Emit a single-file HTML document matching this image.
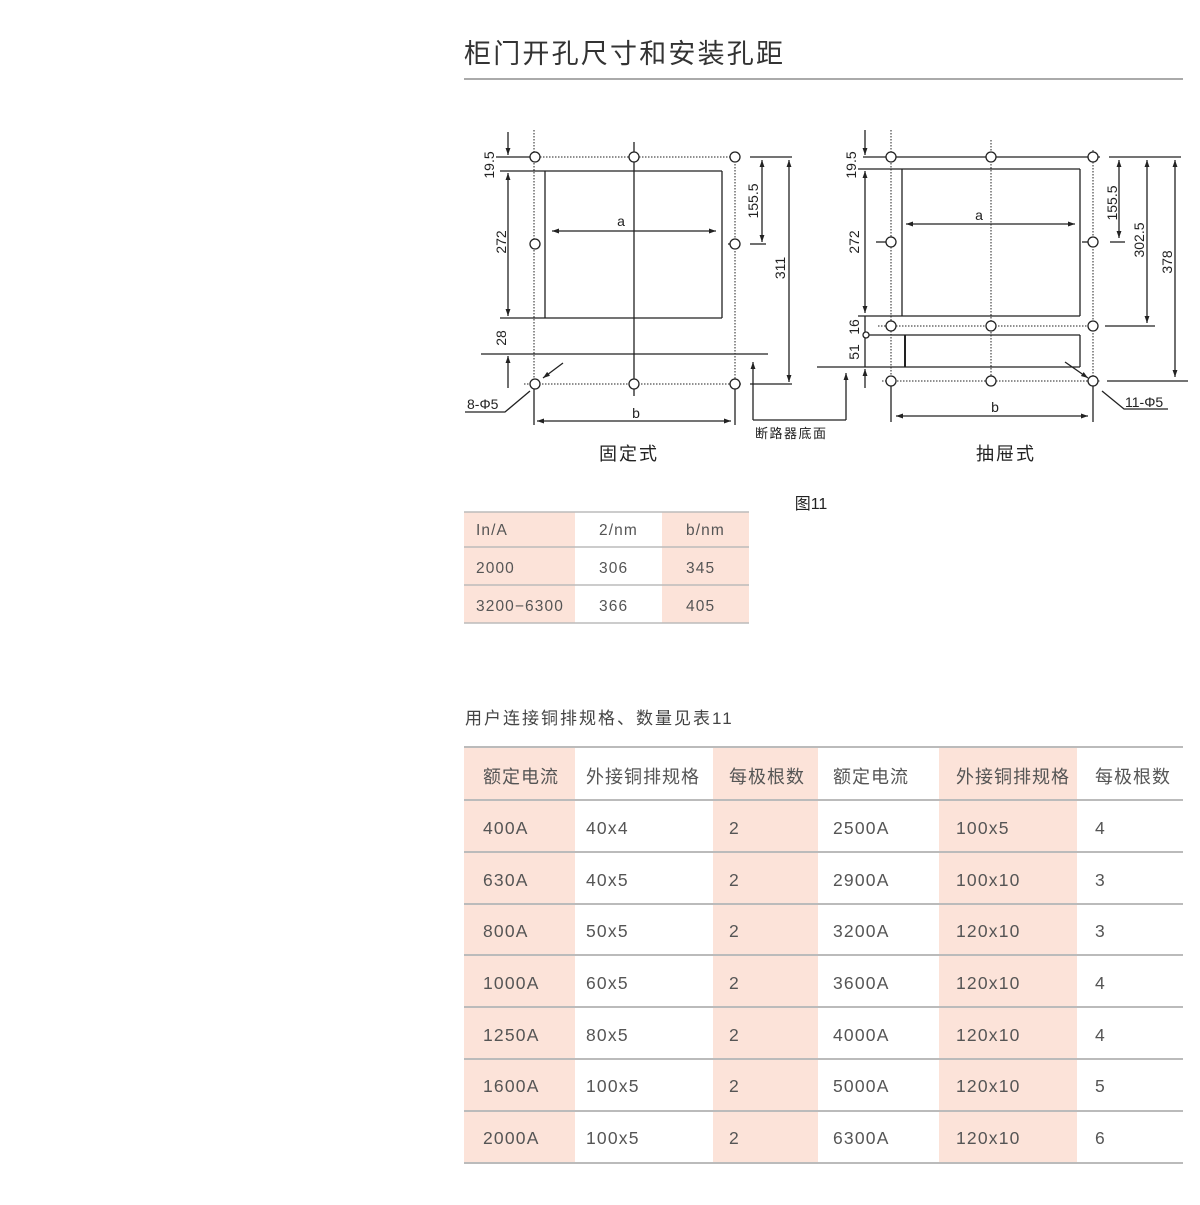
<!DOCTYPE html>
<html><head><meta charset="utf-8"><style>
html,body{margin:0;padding:0;background:#fff;}
svg{display:block;}
text{font-family:"Liberation Sans","Noto Sans CJK SC",sans-serif;}
</style></head><body>
<svg width="1200" height="1205" viewBox="0 0 1200 1205" xmlns="http://www.w3.org/2000/svg">
<defs>
<marker id="ar" viewBox="0 0 10 10" refX="10" refY="5" markerWidth="7" markerHeight="7" orient="auto-start-reverse" markerUnits="userSpaceOnUse"><path d="M0,1.5 L10,5 L0,8.5z" fill="#222"/></marker>
</defs>
<text x="464" y="63" font-size="27" fill="#333" letter-spacing="2.2">柜门开孔尺寸和安装孔距</text>
<line x1="464" y1="79" x2="1183" y2="79" stroke="#aaa" stroke-width="2"/>

<g stroke="#222" stroke-width="1.3" fill="none">
<line x1="534" y1="130" x2="534" y2="385" stroke-dasharray="1.5,1.5" stroke-width="1"/>
<line x1="534" y1="389" x2="534" y2="425"/>
<line x1="735" y1="152" x2="735" y2="385" stroke-dasharray="1.5,1.5" stroke-width="1"/>
<line x1="735" y1="389" x2="735" y2="425"/>
<line x1="540" y1="157" x2="741" y2="157" stroke-dasharray="1.5,1.5" stroke-width="1"/>
<line x1="524" y1="384" x2="741" y2="384" stroke-dasharray="1.5,1.5" stroke-width="1"/>
<line x1="634" y1="142" x2="634" y2="396"/>
<line x1="496" y1="157" x2="530" y2="157"/>
<line x1="500" y1="171" x2="722" y2="171"/>
<line x1="500" y1="318" x2="722" y2="318"/>
<line x1="545" y1="171" x2="545" y2="318"/>
<line x1="722" y1="171" x2="722" y2="318"/>
<line x1="481" y1="354" x2="768" y2="354"/>
<line x1="508" y1="132" x2="508" y2="155" marker-end="url(#ar)"/>
<line x1="508" y1="173" x2="508" y2="316" marker-start="url(#ar)" marker-end="url(#ar)"/>
<line x1="508" y1="388" x2="508" y2="356" marker-end="url(#ar)"/>
<line x1="552" y1="231" x2="716" y2="231" marker-start="url(#ar)" marker-end="url(#ar)"/>
<line x1="750" y1="157" x2="792" y2="157"/>
<line x1="750" y1="244" x2="766" y2="244"/>
<line x1="728" y1="244" x2="730" y2="244"/>
<line x1="762" y1="160" x2="762" y2="242" marker-start="url(#ar)" marker-end="url(#ar)"/>
<line x1="789" y1="160" x2="789" y2="382" marker-start="url(#ar)" marker-end="url(#ar)"/>
<line x1="750" y1="384" x2="792" y2="384"/>
<line x1="537" y1="421" x2="731" y2="421" marker-start="url(#ar)" marker-end="url(#ar)"/>
<polyline points="465,412 505,412 530,391"/>
<line x1="563" y1="363" x2="543" y2="378" marker-end="url(#ar)"/>
<line x1="753" y1="420" x2="753" y2="362" marker-end="url(#ar)"/>
<line x1="753" y1="420" x2="846" y2="420"/>
<line x1="846" y1="420" x2="846" y2="373" marker-end="url(#ar)"/>
<g fill="#fff">
<circle cx="535" cy="157" r="5"/><circle cx="634" cy="157" r="5"/><circle cx="735" cy="157" r="5"/>
<circle cx="535" cy="244" r="5"/><circle cx="735" cy="244" r="5"/>
<circle cx="535" cy="384" r="5"/><circle cx="634" cy="384" r="5"/><circle cx="735" cy="384" r="5"/>
</g>

<line x1="891" y1="130" x2="891" y2="381" stroke-dasharray="1.5,1.5" stroke-width="1"/>
<line x1="891" y1="386" x2="891" y2="422"/>
<line x1="991" y1="140" x2="991" y2="381" stroke-dasharray="1.5,1.5" stroke-width="1"/>
<line x1="1093" y1="150" x2="1093" y2="381" stroke-dasharray="1.5,1.5" stroke-width="1"/>
<line x1="1093" y1="386" x2="1093" y2="422"/>
<line x1="863" y1="157" x2="1100" y2="157"/>
<line x1="878" y1="326" x2="1100" y2="326" stroke-dasharray="1.5,1.5" stroke-width="1"/>
<line x1="882" y1="381" x2="1100" y2="381" stroke-dasharray="1.5,1.5" stroke-width="1"/>
<line x1="858" y1="169" x2="1080" y2="169"/>
<line x1="858" y1="316" x2="1080" y2="316"/>
<line x1="902" y1="169" x2="902" y2="316"/>
<line x1="1080" y1="169" x2="1080" y2="316"/>
<line x1="866" y1="335" x2="1080" y2="335"/>
<line x1="905" y1="335" x2="905" y2="367" stroke-width="2"/>
<line x1="1080" y1="335" x2="1080" y2="367"/>
<line x1="817" y1="367" x2="1080" y2="367"/>
<line x1="865" y1="130" x2="865" y2="155" marker-end="url(#ar)"/>
<line x1="865" y1="171" x2="865" y2="313" marker-start="url(#ar)" marker-end="url(#ar)"/>
<line x1="865" y1="316" x2="865" y2="367"/>
<line x1="865" y1="388" x2="865" y2="369" marker-end="url(#ar)"/>
<line x1="906" y1="224" x2="1075" y2="224" marker-start="url(#ar)" marker-end="url(#ar)"/>
<line x1="876" y1="242" x2="886" y2="242"/>
<line x1="1082" y1="242" x2="1088" y2="242"/>
<line x1="1109" y1="157" x2="1181" y2="157"/>
<line x1="1110" y1="242" x2="1125" y2="242"/>
<line x1="1105" y1="326" x2="1155" y2="326"/>
<line x1="1107" y1="381" x2="1188" y2="381"/>
<line x1="1119" y1="160" x2="1119" y2="238" marker-start="url(#ar)" marker-end="url(#ar)"/>
<line x1="1147" y1="160" x2="1147" y2="323" marker-start="url(#ar)" marker-end="url(#ar)"/>
<line x1="1175" y1="160" x2="1175" y2="377" marker-start="url(#ar)" marker-end="url(#ar)"/>
<line x1="896" y1="416" x2="1088" y2="416" marker-start="url(#ar)" marker-end="url(#ar)"/>
<polyline points="1168,409 1124,409 1102,391"/>
<line x1="1065" y1="362" x2="1088" y2="378" marker-end="url(#ar)"/>
<g fill="#fff">
<circle cx="891" cy="157" r="5"/><circle cx="991" cy="157" r="5"/><circle cx="1093" cy="157" r="5"/>
<circle cx="891" cy="242" r="5"/><circle cx="1093" cy="242" r="5"/>
<circle cx="891" cy="326" r="5"/><circle cx="991" cy="326" r="5"/><circle cx="1093" cy="326" r="5"/>
<circle cx="891" cy="381" r="5"/><circle cx="991" cy="381" r="5"/><circle cx="1093" cy="381" r="5"/>
<circle cx="866" cy="335" r="3"/>
</g>
</g>

<g font-size="14" fill="#222">
<text transform="translate(494,165) rotate(-90)" text-anchor="middle">19.5</text>
<text transform="translate(506,242) rotate(-90)" text-anchor="middle">272</text>
<text transform="translate(506,338) rotate(-90)" text-anchor="middle">28</text>
<text x="621" y="226" text-anchor="middle">a</text>
<text transform="translate(758,201) rotate(-90)" text-anchor="middle">155.5</text>
<text transform="translate(785,268) rotate(-90)" text-anchor="middle">311</text>
<text x="467" y="409">8-Φ5</text>
<text x="636" y="418" text-anchor="middle">b</text>
<text x="755" y="438" font-size="13" letter-spacing="1.5">断路器底面</text>
<text x="629" y="460" font-size="18" text-anchor="middle" letter-spacing="2">固定式</text>

<text transform="translate(856,165) rotate(-90)" text-anchor="middle">19.5</text>
<text transform="translate(859,242) rotate(-90)" text-anchor="middle">272</text>
<text transform="translate(859,327) rotate(-90)" text-anchor="middle">16</text>
<text transform="translate(859,352) rotate(-90)" text-anchor="middle">51</text>
<text x="979" y="220" text-anchor="middle">a</text>
<text transform="translate(1117,203) rotate(-90)" text-anchor="middle">155.5</text>
<text transform="translate(1144,240) rotate(-90)" text-anchor="middle">302.5</text>
<text transform="translate(1172,262) rotate(-90)" text-anchor="middle">378</text>
<text x="1125" y="407">11-Φ5</text>
<text x="995" y="412" text-anchor="middle">b</text>
<text x="1006" y="460" font-size="18" text-anchor="middle" letter-spacing="2">抽屉式</text>
<text x="811" y="509" font-size="16" text-anchor="middle">图11</text>
</g>

<g>
<rect x="464" y="512" width="111" height="111" fill="#fce3d9"/>
<rect x="662" y="512" width="87" height="111" fill="#fce3d9"/>
<g stroke="#bbb" stroke-width="1.5">
<line x1="464" y1="512" x2="749" y2="512"/>
<line x1="464" y1="547" x2="749" y2="547"/>
<line x1="464" y1="585" x2="749" y2="585"/>
<line x1="464" y1="623" x2="749" y2="623"/>
</g>
<g font-size="15.5" fill="#555" letter-spacing="1.1">
<text x="476" y="535">In/A</text><text x="599" y="535">2/nm</text><text x="686" y="535">b/nm</text>
<text x="476" y="573">2000</text><text x="599" y="573">306</text><text x="686" y="573">345</text>
<text x="476" y="611">3200−6300</text><text x="599" y="611">366</text><text x="686" y="611">405</text>
</g>
</g>

<text x="465" y="724" font-size="17" fill="#444" letter-spacing="2">用户连接铜排规格、数量见表11</text>
<g>
<rect x="464" y="747" width="111" height="416" fill="#fce3d9"/>
<rect x="713" y="747" width="105" height="416" fill="#fce3d9"/>
<rect x="939" y="747" width="138" height="416" fill="#fce3d9"/>
<g stroke="#bbb" stroke-width="2">
<line x1="464" y1="747" x2="1183" y2="747"/>
<line x1="464" y1="800" x2="1183" y2="800"/>
<line x1="464" y1="852" x2="1183" y2="852"/>
<line x1="464" y1="904" x2="1183" y2="904"/>
<line x1="464" y1="955" x2="1183" y2="955"/>
<line x1="464" y1="1007" x2="1183" y2="1007"/>
<line x1="464" y1="1059" x2="1183" y2="1059"/>
<line x1="464" y1="1111" x2="1183" y2="1111"/>
<line x1="464" y1="1163" x2="1183" y2="1163"/>
</g>
<g font-size="18" fill="#555" letter-spacing="1">
<text x="483" y="783">额定电流</text><text x="586" y="783">外接铜排规格</text><text x="729" y="783">每极根数</text><text x="833" y="783">额定电流</text><text x="956" y="783">外接铜排规格</text><text x="1095" y="783">每极根数</text>
</g>
<g font-size="17.5" fill="#555" letter-spacing="1.2">
<text x="483" y="834">400A</text><text x="586" y="834">40x4</text><text x="729" y="834">2</text><text x="833" y="834">2500A</text><text x="956" y="834">100x5</text><text x="1095" y="834">4</text>
<text x="483" y="886">630A</text><text x="586" y="886">40x5</text><text x="729" y="886">2</text><text x="833" y="886">2900A</text><text x="956" y="886">100x10</text><text x="1095" y="886">3</text>
<text x="483" y="937">800A</text><text x="586" y="937">50x5</text><text x="729" y="937">2</text><text x="833" y="937">3200A</text><text x="956" y="937">120x10</text><text x="1095" y="937">3</text>
<text x="483" y="989">1000A</text><text x="586" y="989">60x5</text><text x="729" y="989">2</text><text x="833" y="989">3600A</text><text x="956" y="989">120x10</text><text x="1095" y="989">4</text>
<text x="483" y="1041">1250A</text><text x="586" y="1041">80x5</text><text x="729" y="1041">2</text><text x="833" y="1041">4000A</text><text x="956" y="1041">120x10</text><text x="1095" y="1041">4</text>
<text x="483" y="1092">1600A</text><text x="586" y="1092">100x5</text><text x="729" y="1092">2</text><text x="833" y="1092">5000A</text><text x="956" y="1092">120x10</text><text x="1095" y="1092">5</text>
<text x="483" y="1144">2000A</text><text x="586" y="1144">100x5</text><text x="729" y="1144">2</text><text x="833" y="1144">6300A</text><text x="956" y="1144">120x10</text><text x="1095" y="1144">6</text>
</g>
</g>
</svg>
</body></html>
